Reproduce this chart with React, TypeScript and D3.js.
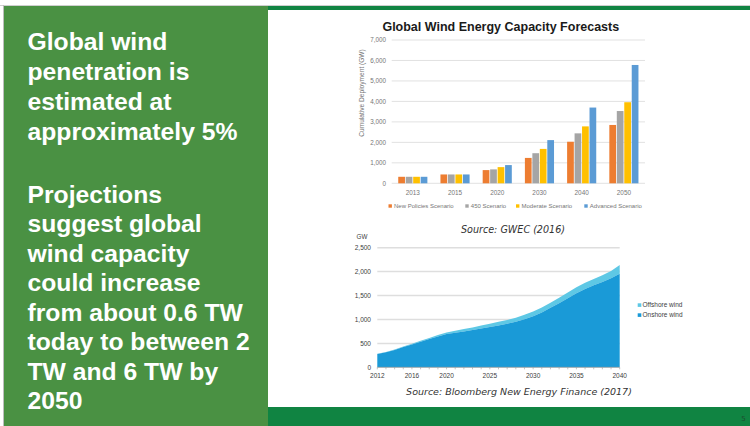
import React from "react";
import * as d3 from "d3";

// ---- Top chart: GWEC scenario forecasts (GW) ----
const forecastYears = ["2013", "2015", "2020", "2030", "2040", "2050"];
const scenarioNames = ["New Policies Scenario", "450 Scenario", "Moderate Scenario", "Advanced Scenario"];
const newPolicies = [318, 432, 645, 1240, 2030, 2850];
const scenario450 = [318, 432, 680, 1470, 2440, 3530];
const moderate = [318, 432, 790, 1680, 2780, 3960];
const advanced = [318, 432, 890, 2110, 3700, 5780];
const forecastTicks = [0, 1000, 2000, 3000, 4000, 5000, 6000, 7000];
const scenarioColors = ["#ed7d31", "#a5a5a5", "#ffc000", "#5b9bd5"];

// ---- Bottom chart: BNEF cumulative capacity (GW) ----
const outlookYears = [
  2012, 2013, 2014, 2015, 2016, 2017, 2018, 2019, 2020, 2021, 2022, 2023, 2024, 2025,
  2026, 2027, 2028, 2029, 2030, 2031, 2032, 2033, 2034, 2035, 2036, 2037, 2038, 2039, 2040,
];
const onshore = [
  278, 312, 361, 424, 479, 535, 590, 646, 694, 722, 750, 778, 812, 840,
  875, 910, 951, 1007, 1069, 1146, 1243, 1340, 1444, 1549, 1639, 1715, 1785, 1861, 1958,
];
const offshore = [
  5, 7, 9, 12, 15, 18, 22, 27, 35, 42, 49, 55, 63, 70,
  75, 78, 84, 90, 95, 102, 108, 115, 122, 126, 128, 133, 140, 150, 180,
];
const outlookYTicks = [0, 500, 1000, 1500, 2000, 2500];
const outlookXTicks = [2012, 2016, 2020, 2025, 2030, 2035, 2040];
const windTypes = ["Offshore wind", "Onshore wind"];
const windColors = ["#5ec8e5", "#1a9ad7"];

// ---- Slide text ----
const introLines = ["Global wind", "penetration is", "estimated at", "approximately 5%"];
const projectionLines = [
  "Projections",
  "suggest global",
  "wind capacity",
  "could increase",
  "from about 0.6 TW",
  "today to between 2",
  "TW and 6 TW by",
  "2050",
];

const SANS = "'Liberation Sans', Arial, sans-serif";
const VERD = "'DejaVu Sans', Verdana, sans-serif";
const PANEL_GREEN = "#4a9143";
const BAR_GREEN = "#108442";

function ForecastChart() {
  const y = d3.scaleLinear().domain([0, 7000]).range([183.3, 40]);
  const x = d3.scaleBand<string>().domain(forecastYears).range([391.7, 645]).paddingInner(0.31).paddingOuter(0.155);
  const inner = d3.scaleBand<number>().domain([0, 1, 2, 3]).range([0, x.bandwidth()]).paddingInner(0.1);
  const series = [newPolicies, scenario450, moderate, advanced];
  const fmt = d3.format(",");
  const legendX = [388.5, 465.3, 516, 584.3];

  return (
    <g>
      <text x={500.8} y={31} textAnchor="middle" fontFamily={SANS} fontWeight="bold" fontSize={12.5} fill="#1a1a1a">
        Global Wind Energy Capacity Forecasts
      </text>
      {forecastTicks.map((t) => (
        <g key={t}>
          <line x1={391.7} x2={645} y1={y(t)} y2={y(t)} stroke="#d9d9d9" strokeWidth={0.8} />
          <text x={386} y={y(t) + 2.2} textAnchor="end" fontFamily={SANS} fontSize={6.3} fill="#767676">
            {fmt(t)}
          </text>
        </g>
      ))}
      <text
        transform={`translate(363.5,93) rotate(-90)`}
        textAnchor="middle"
        fontFamily={SANS}
        fontSize={6.6}
        fill="#767676"
      >
        Cumulative Deployment (GW)
      </text>
      {forecastYears.map((yr, i) => (
        <g key={yr} transform={`translate(${x(yr)},0)`}>
          {series.map((s, k) => (
            <rect
              key={k}
              x={inner(k)}
              width={inner.bandwidth()}
              y={y(s[i])}
              height={y(0) - y(s[i])}
              fill={scenarioColors[k]}
            />
          ))}
          <text x={x.bandwidth() / 2} y={194.5} textAnchor="middle" fontFamily={SANS} fontSize={6.4} fill="#767676">
            {yr}
          </text>
        </g>
      ))}
      {scenarioNames.map((n, k) => (
        <g key={n}>
          <rect x={legendX[k]} y={204.3} width={3.4} height={3.4} fill={scenarioColors[k]} />
          <text x={legendX[k] + 5.5} y={208.2} fontFamily={SANS} fontSize={6} fill="#767676">
            {n}
          </text>
        </g>
      ))}
      <text x={513} y={232.5} textAnchor="middle" fontFamily={VERD} fontStyle="italic" fontSize={9.6} fill="#333">
        Source: GWEC (2016)
      </text>
    </g>
  );
}

function OutlookChart() {
  const x = d3.scaleLinear().domain([2012, 2040]).range([377.3, 619.7]);
  const y = d3.scaleLinear().domain([0, 2500]).range([367.3, 247.7]);
  const rows = outlookYears.map((yr, i) => ({ year: yr, onshore: onshore[i], offshore: offshore[i] }));
  const stacked = d3.stack<any>().keys(["onshore", "offshore"])(rows);
  const area = d3
    .area<any>()
    .x((d) => x(d.data.year))
    .y0((d) => y(d[0]))
    .y1((d) => y(d[1]));
  const fmt = d3.format(",");

  return (
    <g>
      <text x={362} y={239} textAnchor="middle" fontFamily={SANS} fontSize={6.3} fill="#404040">
        GW
      </text>
      {outlookYTicks.map((t) => (
        <g key={t}>
          {t > 0 && <line x1={377.3} x2={619.7} y1={y(t)} y2={y(t)} stroke="#dedede" strokeWidth={1.5} />}
          <text x={371} y={y(t) + 2.3} textAnchor="end" fontFamily={SANS} fontSize={6.5} fill="#404040">
            {fmt(t)}
          </text>
        </g>
      ))}
      <path d={area(stacked[1]) ?? ""} fill={windColors[0]} />
      <path d={area(stacked[0]) ?? ""} fill={windColors[1]} />
      <line x1={377.3} x2={619.7} y1={y(0)} y2={y(0)} stroke="#9a9a9a" strokeWidth={0.8} />
      {outlookYears.map((yr) => (
        <line key={yr} x1={x(yr)} x2={x(yr)} y1={y(0)} y2={y(0) + 2} stroke="#9a9a9a" strokeWidth={0.6} />
      ))}
      {outlookXTicks.map((yr) => (
        <text key={yr} x={x(yr)} y={377.5} textAnchor="middle" fontFamily={SANS} fontSize={6.5} fill="#404040">
          {yr}
        </text>
      ))}
      {windTypes.map((n, k) => (
        <g key={n}>
          <rect x={637.7} y={305 + k * 10 - 1.7} width={3.6} height={3.6} fill={windColors[k]} />
          <text x={642.5} y={305 + k * 10 + 2.2} fontFamily={SANS} fontSize={6.5} fill="#404040">
            {n}
          </text>
        </g>
      ))}
      <text x={519} y={395} textAnchor="middle" fontFamily={VERD} fontStyle="italic" fontSize={9.5} fill="#333">
        Source: Bloomberg New Energy Finance (2017)
      </text>
    </g>
  );
}

export default function App() {
  return (
    <div style={{ position: "absolute", left: 0, top: 0 }}>
      <svg width={750} height={426} viewBox="0 0 750 426" style={{ display: "block" }}>
        <rect width={750} height={426} fill="#ffffff" />
        <line x1={0} x2={750} y1={5.5} y2={5.5} stroke="#cfcfcf" strokeWidth={1} />
        <line x1={3.5} x2={3.5} y1={5} y2={426} stroke="#bdbdbd" strokeWidth={1} />
        <rect x={4} y={6} width={264} height={420} fill={PANEL_GREEN} />
        <rect x={268} y={6} width={482} height={4} fill={BAR_GREEN} />
        <rect x={268} y={407} width={482} height={19} fill={BAR_GREEN} />
        <text x={743.5} y={421} textAnchor="middle" fontFamily={VERD} fontSize={7} fill="#1d4f30">
          5
        </text>
        <g fontFamily={SANS} fontWeight="bold" fontSize={24.7} fill="#ffffff">
          {introLines.map((l, i) => (
            <text key={l} x={27.5} y={50 + i * 30}>
              {l}
            </text>
          ))}
          {projectionLines.map((l, i) => (
            <text key={l} x={27.5} y={202.5 + i * 29.5}>
              {l}
            </text>
          ))}
        </g>
        <ForecastChart />
        <OutlookChart />
      </svg>
    </div>
  );
}
